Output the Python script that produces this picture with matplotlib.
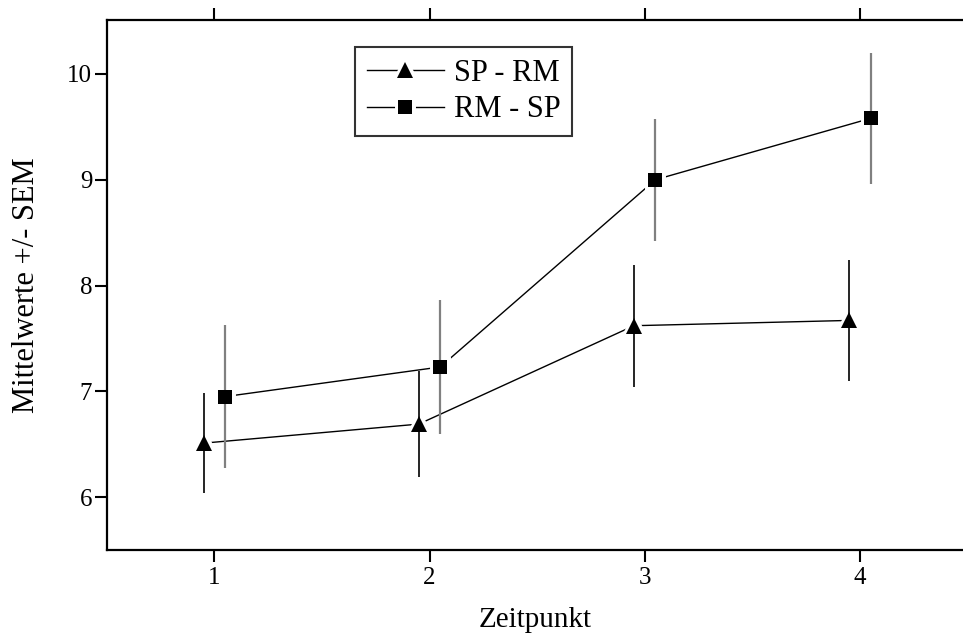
import matplotlib
matplotlib.use("Agg")
from matplotlib import pyplot as plt
from matplotlib.lines import Line2D
from matplotlib.legend_handler import HandlerTuple
import numpy as np

zeitpunkt = [1, 2, 3, 4]
sp_rm_mean = [6.51, 6.69, 7.62, 7.67]
sp_rm_sem = [0.47, 0.50, 0.575, 0.57]
rm_sp_mean = [6.95, 7.23, 9.00, 9.58]
rm_sp_sem = [0.675, 0.63, 0.575, 0.62]
offset = 0.05

plt.rcParams['font.family'] = ['Liberation Serif', 'DejaVu Serif']

fig = plt.figure(figsize=(9.63, 6.35), dpi=100)
ax = fig.add_axes([0.111, 0.1339, 0.889, 0.8346])

x = np.array(zeitpunkt, dtype=float)
series = [
    (x - offset, sp_rm_mean, sp_rm_sem, '^', 12, 'black', 1.2, 'SP - RM'),
    (x + offset, rm_sp_mean, rm_sp_sem, 's', 10, '#808080', 1.6, 'RM - SP'),
]
handles = []
for xs, m, e, mk, ms, ecol, elw, lab in series:
    # line, white halo round the marker (gap), error bar, then the marker itself
    ax.plot(xs, m, color='black', lw=1.0, zorder=1)
    ax.plot(xs, m, ls='none', marker=mk, ms=ms, mfc='black', mec='white', mew=5, zorder=2)
    ax.errorbar(xs, m, yerr=e, fmt='none', ecolor=ecol, elinewidth=elw, capsize=0, zorder=3)
    ax.plot(xs, m, ls='none', marker=mk, ms=ms, mfc='black', mec='black', mew=0, zorder=4)
    h1 = Line2D([], [], color='black', lw=1.0, marker=mk, ms=ms, mfc='black', mec='white', mew=5)
    h2 = Line2D([], [], ls='none', marker=mk, ms=ms, mfc='black', mew=0)
    handles.append(((h1, h2), lab))

ax.set_xlim(0.5, 4.48)
ax.set_ylim(5.5, 10.51)
ax.set_xticks(zeitpunkt)
ax.set_yticks([6, 7, 8, 9, 10])
ax.tick_params(axis='both', which='major', labelsize=18, length=8.5, width=1.5, direction='out')
ax.tick_params(axis='x', top=True, pad=4)
ax.tick_params(axis='y', pad=2)
ax.spines['right'].set_visible(False)
for s in ['left', 'top', 'bottom']:
    ax.spines[s].set_linewidth(1.6)

ax.set_xlabel('Zeitpunkt', fontsize=21, labelpad=13)
ax.set_ylabel('Mittelwerte +/- SEM', fontsize=22, labelpad=19)

leg = ax.legend([h for h, _ in handles], [l for _, l in handles],
                handler_map={tuple: HandlerTuple(ndivide=1)},
                loc='upper left', bbox_to_anchor=(0.2897, 0.949), borderaxespad=0,
                fontsize=22, frameon=True, fancybox=False, handlelength=2.55,
                handletextpad=0.3, borderpad=0.38, labelspacing=0.25)
leg.get_frame().set_edgecolor('black')
leg.get_frame().set_linewidth(1.5)

fig.savefig('out.png', dpi=100)
